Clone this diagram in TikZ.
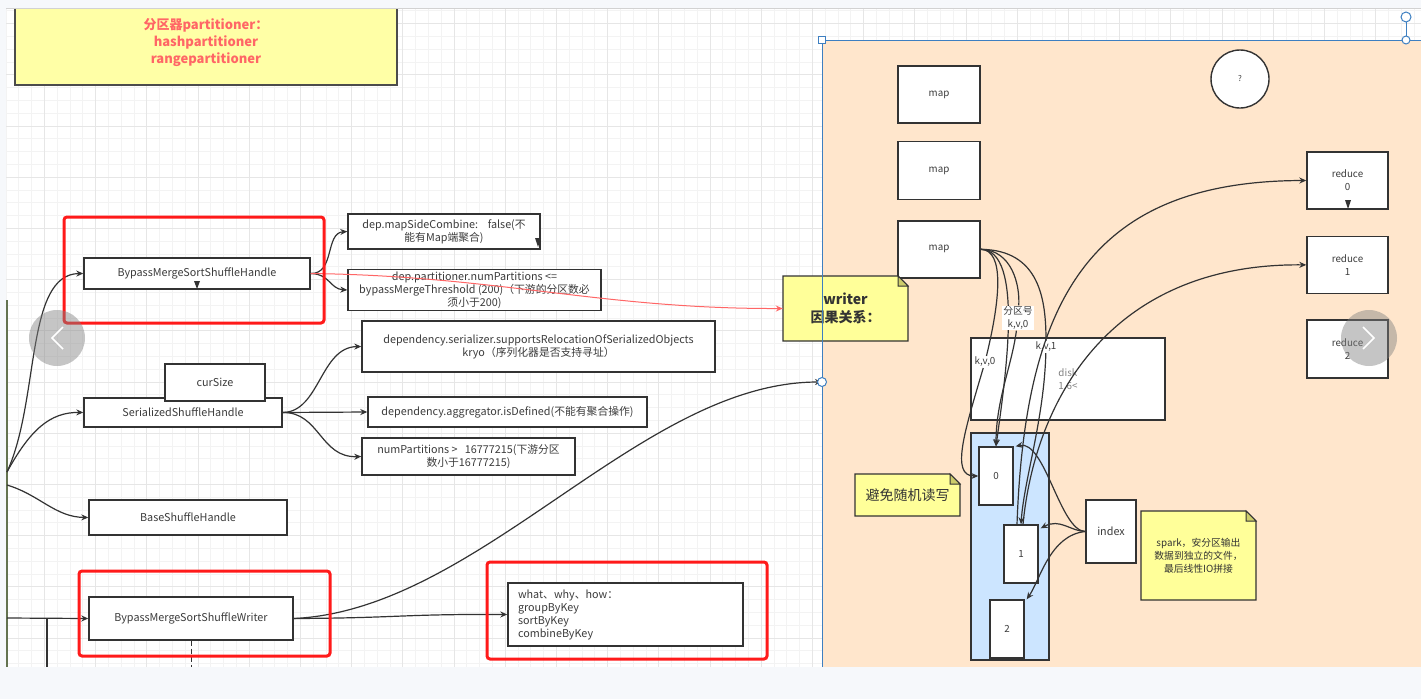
\documentclass[tikz,border=0pt]{standalone}
\usepackage{fontspec}
\setmainfont{Noto Sans CJK SC}
\usepackage{xcolor}
\definecolor{linegray}{RGB}{51,51,51}
\definecolor{txtgray}{RGB}{60,60,60}
\definecolor{gridminor}{RGB}{243,243,243}
\definecolor{gridmajor}{RGB}{230,230,230}
\definecolor{uibg}{RGB}{246,248,251}
\definecolor{titlefill}{RGB}{255,255,166}
\definecolor{titletext}{RGB}{255,102,102}
\definecolor{peach}{RGB}{255,230,204}
\definecolor{selblue}{RGB}{61,127,193}
\definecolor{filefill}{RGB}{204,229,255}
\definecolor{notefill}{RGB}{255,255,153}
\definecolor{notefold}{RGB}{205,205,107}
\definecolor{framered}{RGB}{255,26,26}
\definecolor{olivebar}{RGB}{100,115,80}
\usepackage{tikz}
\usetikzlibrary{positioning, arrows.meta}

% folded-corner note body, corners x1,y1,x2,y2
\newcommand{\notebody}[4]{%
  \filldraw[fill=notefill, draw=linegray, line width=1.3] (#1,#2) -- (#3-10,#2) -- (#3,#2+10) -- (#3,#4) -- (#1,#4) -- cycle;
  \filldraw[fill=notefold, draw=linegray, line width=1] (#3-10,#2) -- (#3-10,#2+10) -- (#3,#2+10) -- cycle;
}

\begin{document}
\begin{tikzpicture}[
  x=1pt, y=-1pt,
  box/.style={rectangle, draw=linegray, fill=white, line width=1.4pt, inner sep=2pt, align=center, text=txtgray, font=\fontsize{10.8}{13}\selectfont},
  smallbox/.style={box, font=\fontsize{9.8}{13}\selectfont},
  titlebox/.style={rectangle, draw=gray!60!black, line width=2pt, fill=titlefill, align=center, text=titletext, font=\fontsize{13}{17}\selectfont\bfseries},
  notetxt/.style={rectangle, inner sep=0pt, align=center, text=linegray},
  redframe/.style={draw=framered, line width=3pt, rounded corners=3pt},
  arrow/.style={->, >={Stealth[length=7pt, width=6pt]}, draw=linegray, line width=1.2pt},
  redarrow/.style={->, >={Stealth[length=7pt, width=6pt]}, draw=titletext, line width=1pt},
  kvlabel/.style={fill=white, inner sep=1pt, text=txtgray, align=center, font=\fontsize{9.8}{13}\selectfont},
  stub/.style={fill=linegray}
]
  \useasboundingbox (0,0) rectangle (1421,699);

  % Grid
  \fill[white] (0,0) rectangle (1421,699);
  \foreach \gx in {0,...,110} \draw[gridminor, line width=0.8pt] (6+12.8*\gx,8) -- (6+12.8*\gx,667);
  \foreach \gy in {0,...,51} \draw[gridminor, line width=0.8pt] (6,10.8+12.8*\gy) -- (1421,10.8+12.8*\gy);
  \foreach \gx in {0,...,27} \draw[gridmajor, line width=1pt] (44.4+51.2*\gx,8) -- (44.4+51.2*\gx,667);
  \foreach \gy in {0,...,12} \draw[gridmajor, line width=1pt] (6,23.6+51.2*\gy) -- (1421,23.6+51.2*\gy);

  % Canvas
  \fill[peach] (822,40) rectangle (1421,667);

  % Nodes (left)
  \node[titlebox, minimum width=382, minimum height=85] (title) at (206,42.5) {分区器partitioner：\\hashpartitioner\\rangepartitioner};
  \node[box, minimum width=226, minimum height=31] (bmssh) at (197,273.5) {BypassMergeSortShuffleHandle};
  \node[box, minimum width=198, minimum height=29] (ssh) at (183,412.5) {SerializedShuffleHandle};
  \node[box, minimum width=100, minimum height=37] (cursize) at (215,382.5) {curSize};
  \node[box, minimum width=198, minimum height=35] (bsh) at (188,517.5) {BaseShuffleHandle};
  \node[box, minimum width=204, minimum height=43] (bmssw) at (191,618.5) {BypassMergeSortShuffleWriter};

  \node[box, minimum width=192, minimum height=35] (msc) at (444,231.5) {dep.mapSideCombine:\ \ \ \ false(不\\能有Map端聚合)};
  \node[box, minimum width=253, minimum height=40] (np) at (474.5,290) {dep.partitioner.numPartitions <=\\bypassMergeThreshold (200)（下游的分区数必\\须小于200)};
  \node[box, minimum width=353, minimum height=51] (ser) at (538.5,346.5) {dependency.serializer.supportsRelocationOfSerializedObjects\\kryo（序列化器是否支持寻址）};
  \node[box, minimum width=279, minimum height=30] (agg) at (507.5,412) {dependency.aggregator.isDefined(不能有聚合操作)};
  \node[box, minimum width=213, minimum height=37] (np2) at (468.5,456.5) {numPartitions >\ \ \ 16777215(下游分区\\数小于16777215)};
  \node[box, text width=215, inner xsep=10pt, align=left, minimum height=63] (www) at (625.5,614.5) {what、why、how：\\groupByKey\\sortByKey\\combineByKey};

  % Nodes (canvas)
  \node[smallbox, minimum width=82, minimum height=57] (map1) at (939,94.5) {map};
  \node[smallbox, minimum width=82, minimum height=58, below=17pt of map1] (map2) {map};
  \node[smallbox, minimum width=82, minimum height=57, below=20pt of map2] (map3) {map};
  \node[smallbox, circle, minimum size=58, font=\fontsize{8}{10}\selectfont] (ques) at (1240,79) {?};
  \node[smallbox, minimum width=81, minimum height=57] (red0) at (1347.5,180.5) {reduce\\0};
  \node[smallbox, minimum width=81, minimum height=57, below=26pt of red0] (red1) {reduce\\1};
  \node[smallbox, minimum width=81, minimum height=58, below=25pt of red1] (red2) {reduce\\2};
  \node[smallbox, align=left, minimum width=194, minimum height=82, text=gray] (disk) at (1068,379) {disk\\1.6<};
  \node[box, fill=filefill, minimum width=78, minimum height=227] (files) at (1010,546.5) {};
  \node[smallbox, minimum width=34, minimum height=58] (f0) at (996,476) {0};
  \node[smallbox, minimum width=34, minimum height=58] (f1) at (1021,554) {1};
  \node[smallbox, minimum width=34, minimum height=58] (f2) at (1007,629) {2};
  \node[box, minimum width=50, minimum height=63] (idx) at (1111,531.5) {index};

  % Notes
  \notebody{783}{276}{908}{341}
  \node[notetxt, minimum width=125, minimum height=65, font=\fontsize{14}{18}\selectfont\bfseries] (writer) at (845.5,308.5) {writer\\因果关系：};
  \notebody{855}{474}{960}{516}
  \node[notetxt, minimum width=105, minimum height=42, font=\fontsize{14}{18}\selectfont] (avoid) at (907.5,495) {避免随机读写};
  \notebody{1141}{511}{1256}{600}
  \node[notetxt, minimum width=115, minimum height=89, font=\fontsize{9.8}{13}\selectfont] (sparknote) at (1198.5,555.5) {spark，安分区输出\\数据到独立的文件，\\最后线性IO拼接};

  % Bus on the left
  \draw[olivebar, line width=1.5pt] (7,300) -- (7,667);
  \coordinate (busA) at (7,472);
  \coordinate (busB) at (7,485);
  \coordinate (busC) at (7,618);
  \coordinate (portin) at (822,382);

  % Arrows (left)
  \draw[arrow] (busA) .. controls (40,400) and (25,274) .. (bmssh.west);
  \draw[arrow] (busA) .. controls (30,430) and (50,412) .. (ssh.west);
  \draw[arrow] (busB) .. controls (40,495) and (55,517) .. (bsh.west);
  \draw[arrow] (busC) -- (bmssw.west);
  \draw[linegray, line width=1.2pt] (47,618) -- (47,667);
  \draw[linegray, line width=1pt, dash pattern=on 5pt off 3pt] (bmssw.south) -- ++(0,27);

  \draw[arrow] (bmssh.east) .. controls (335,274) and (325,233) .. (msc.west);
  \draw[arrow] (bmssh.east) .. controls (330,274) and (330,289) .. (np.west);
  \draw[arrow] (ssh.east) .. controls (320,412) and (320,347) .. (ser.west);
  \draw[arrow] (ssh.east) -- (agg.west);
  \draw[arrow] (ssh.east) .. controls (320,412) and (320,458) .. (np2.west);
  \draw[arrow] (bmssw.east) .. controls (400,618) and (400,614) .. (www.west);
  \draw[arrow] (bmssw.east) .. controls (480,610) and (640,382) .. (portin);
  \draw[redarrow] (bmssh.east) .. controls (500,276) and (600,309) .. (writer.west);

  % stray arrow stubs
  \fill[stub] (194,281) -- (200,281) -- (197,289) -- cycle;
  \fill[stub] (535,238) -- (541,238) -- (538,247) -- cycle;
  \fill[stub] (1345,200) -- (1351,200) -- (1348,209) -- cycle;

  % Arrows (canvas)
  \draw[arrow] (map3.east) .. controls (1025,250) and (1005,380) .. (f0.north);
  \node[kvlabel] (lab1) at (1018,318) {分区号\\k,v,0};
  \node[kvlabel] (lab0) at (985,362) {k,v,0};
  \node[kvlabel] (lab2) at (1046,347) {k,v,1};
  \draw[arrow] (map3.east) .. controls (1005,250) and (1000,300) .. (lab0) .. controls (965,430) and (950,476) .. (f0.west);
  \draw[arrow] (map3.east) .. controls (1012,250) and (1020,285) .. (lab1) .. controls (1012,365) and (996,400) .. (f0.north);
  \draw[arrow] (map3.east) .. controls (1040,250) and (1046,300) .. (lab2) .. controls (1044,420) and (1024,480) .. (f1.north);
  \draw[arrow] ([xshift=-4pt]f1.north) .. controls (1025,300) and (1090,181) .. (red0.west);
  \draw[arrow] ([xshift=2pt]f1.north) .. controls (1035,400) and (1110,263) .. (red1.west);
  \draw[arrow] (idx.west) .. controls (1060,531) and (1045,440) .. ([xshift=2pt]f0.north east);
  \draw[arrow] (idx.west) .. controls (1070,531) and (1060,518) .. ([xshift=2pt,yshift=-4pt]f1.north east);
  \draw[arrow] (idx.west) .. controls (1050,535) and (1040,580) .. ([xshift=2pt]f2.north east);

  % Red frames
  \draw[redframe] (64,217) rectangle (324,323);
  \draw[redframe] (79,571) rectangle (330,656);
  \draw[redframe] (487,562) rectangle (767,659);

  % Canvas border and handles
  \draw[selblue, line width=1pt] (822,667) -- (822,40) -- (1421,40);
  \draw[selblue, fill=white, line width=1pt] (portin) circle (4.5);
  \draw[selblue, fill=white, line width=1pt] (818.5,36.5) rectangle (825.5,43.5);
  \draw[selblue, line width=1pt] (1406,22) -- (1406,36);
  \draw[selblue, fill=white, line width=1pt] (1406,40) circle (4);
  \draw[selblue, fill=white, line width=1pt] (1406,17) circle (5);

  % Page margins
  \fill[uibg] (0,0) rectangle (1421,8);
  \draw[gray!35, line width=1pt] (6,8) -- (1421,8);
  \fill[uibg] (0,0) rectangle (6,699);
  \fill[uibg] (0,667) rectangle (1421,699);

  % Slider buttons
  \fill[gray, opacity=0.45] (57,338) circle (28);
  \draw[white, line width=1.6pt] (63,327) -- (52,338) -- (63,349);
  \fill[gray, opacity=0.45] (1369,338) circle (28);
  \draw[white, line width=1.6pt] (1363,327) -- (1374,338) -- (1363,349);
\end{tikzpicture}
\end{document}
